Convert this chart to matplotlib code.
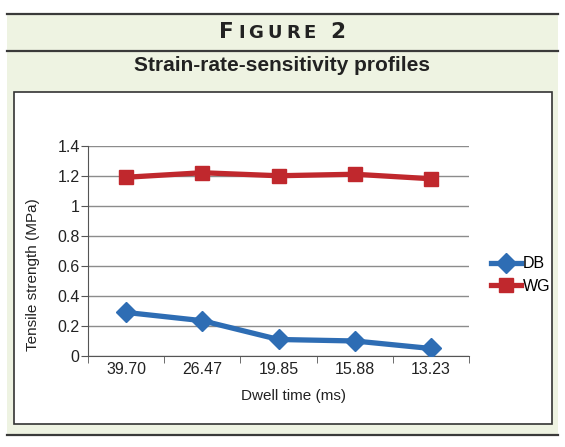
import matplotlib
matplotlib.use("Agg")
import matplotlib.pyplot as plt
from matplotlib.patches import Rectangle
from matplotlib.lines import Line2D
from matplotlib.ticker import FixedLocator

plt.rcParams['font.family'] = ['Liberation Sans', 'DejaVu Sans']

# data
dwell = ['39.70', '26.47', '19.85', '15.88', '13.23']
db = [0.29, 0.235, 0.11, 0.10, 0.05]
wg = [1.19, 1.22, 1.20, 1.21, 1.18]
y_ticks = [0, 0.2, 0.4, 0.6, 0.8, 1, 1.2, 1.4]
y_labels = ['0', '0.2', '0.4', '0.6', '0.8', '1', '1.2', '1.4']

W, H = 565, 447
fig = plt.figure(figsize=(W / 100, H / 100), dpi=100)
fig.patch.set_facecolor('white')


def fx(x):
    return x / W


def fy(y):
    return 1 - y / H


# light green panel, rules, white inner box
fig.add_artist(Rectangle((fx(7), fy(435)), fx(551), 420 / H, transform=fig.transFigure,
                         facecolor='#eef3e2', edgecolor='none', zorder=0))
for yy in (14, 51, 435):
    fig.add_artist(Line2D([fx(7), fx(558)], [fy(yy), fy(yy)], transform=fig.transFigure,
                          color='#3a3a3a', lw=1.6, zorder=1))
fig.add_artist(Rectangle((fx(14), fy(424)), fx(538), 332 / H, transform=fig.transFigure,
                         facecolor='white', edgecolor='#333333', lw=1.2, zorder=1))

# "FIGURE 2" in small caps, letter by letter
bold = dict(fontweight='bold', family=['DejaVu Sans'], color='#222222', va='baseline')
r = fig.canvas.get_renderer()
letters = [('F', 15.5), ('I', 13), ('G', 13), ('U', 13), ('R', 13), ('E', 13), ('2', 15.5)]
gaps = [4, 4, 4, 4, 4, 14, 0]
txts = [fig.text(0, fy(38), s, fontsize=fs, **bold) for s, fs in letters]
widths = [t.get_window_extent(r).width for t in txts]
total = sum(widths) + sum(gaps)
x0 = 282 - total / 2
for t, w, g in zip(txts, widths, gaps):
    t.set_x(fx(x0))
    x0 += w + g

fig.text(fx(282), fy(71), 'Strain-rate-sensitivity profiles', ha='center', va='baseline',
         fontsize=15, fontweight='bold', color='#222222')

ax = fig.add_axes([fx(88), 1 - 356 / H, 381 / W, 210.3 / H])
ax.set_zorder(2)
ax.patch.set_alpha(0)
x = range(len(dwell))
ax.plot(x, db, color='#2e6db4', lw=3.8, marker='D', markersize=10, label='DB', zorder=3)
ax.plot(x, wg, color='#c0282d', lw=3.8, marker='s', markersize=9.5, label='WG', zorder=3)

ax.set_xlim(-0.5, len(dwell) - 0.5)
ax.set_ylim(0, 1.4)
ax.set_yticks(y_ticks)
ax.set_yticklabels(y_labels)
ax.set_xticks(list(x))
ax.set_xticklabels(dwell)
ax.xaxis.set_minor_locator(FixedLocator([i - 0.5 for i in range(len(dwell) + 1)]))
ax.tick_params(axis='x', which='major', length=0, pad=4, labelsize=11.5, colors='#222222')
ax.tick_params(axis='x', which='minor', length=5, color='#555555', direction='out')
ax.tick_params(axis='y', length=5, color='#555555', labelsize=11.5, labelcolor='#222222', pad=1)
ax.grid(axis='y', color='#8c8c8c', lw=1)
ax.set_axisbelow(True)
for s in ('top', 'right'):
    ax.spines[s].set_visible(False)
for s in ('left', 'bottom'):
    ax.spines[s].set_color('#555555')
ax.set_ylabel('Tensile strength (MPa)', fontsize=11, color='#222222')
ax.yaxis.set_label_coords(-0.125, 0.385)
ax.set_xlabel('Dwell time (ms)', fontsize=11, color='#222222')
ax.xaxis.set_label_coords(0.54, -0.155)

ax.legend(loc='center left', bbox_to_anchor=(fx(483), fy(275)), bbox_transform=fig.transFigure,
          frameon=False, fontsize=11.5, handlelength=1.9, handletextpad=0.1, labelspacing=0.45,
          borderpad=0)

fig.savefig('out.png', dpi=100)
